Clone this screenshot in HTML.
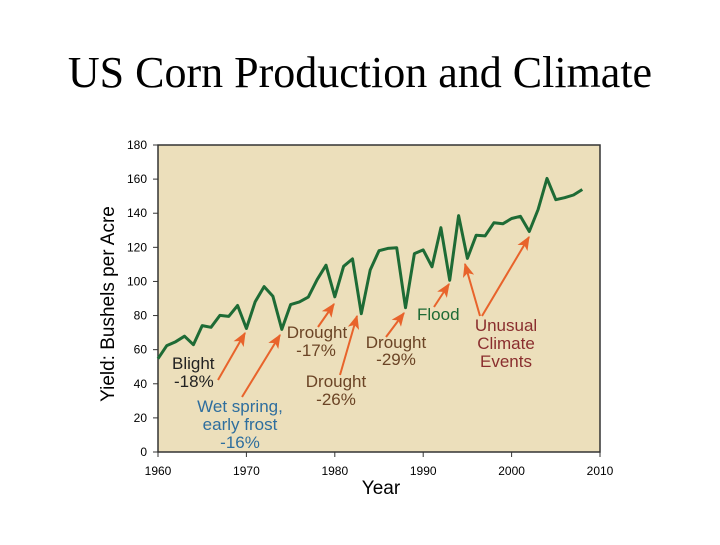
<!DOCTYPE html>
<html><head><meta charset="utf-8"><style>
body{margin:0;width:720px;height:540px;background:#fff;overflow:hidden}
svg text{font-family:"Liberation Sans",sans-serif}
</style></head><body>
<svg width="720" height="540">
<defs>
<marker id="ah2" viewBox="0 0 12 10" markerWidth="14" markerHeight="12" refX="11" refY="5" orient="auto" markerUnits="userSpaceOnUse"><path d="M0,0 L12,5 L0,10 L3,5 Z" fill="#e8632b"/></marker></defs>
<text x="360" y="87" text-anchor="middle" font-size="44" style="font-family:'Liberation Serif',serif">US Corn Production and Climate</text>
<rect x="158" y="145" width="442" height="307" fill="#ecdfbb" stroke="#333" stroke-width="1.5"/>
<g id="axes"></g>
<path id="line" fill="none" stroke="#1e6b35" stroke-width="3" stroke-linejoin="round"/>
<text x="0" y="0" transform="translate(114,304) rotate(-90)" text-anchor="middle" font-size="19">Yield: Bushels per Acre</text>
<text x="381" y="494" text-anchor="middle" font-size="19">Year</text>
<g font-size="17">
<text x="172" y="369" fill="#222">Blight</text><text x="174" y="387" fill="#222">-18%</text>
<text x="240" y="412" text-anchor="middle" fill="#2e6e9e">Wet spring,</text>
<text x="240" y="430" text-anchor="middle" fill="#2e6e9e">early frost</text>
<text x="240" y="448" text-anchor="middle" fill="#2e6e9e">-16%</text>
<text x="317" y="338" text-anchor="middle" fill="#6b4425">Drought</text><text x="316" y="356" text-anchor="middle" fill="#6b4425">-17%</text>
<text x="336" y="387" text-anchor="middle" fill="#6b4425">Drought</text><text x="336" y="405" text-anchor="middle" fill="#6b4425">-26%</text>
<text x="396" y="348" text-anchor="middle" fill="#6b4425">Drought</text><text x="396" y="365" text-anchor="middle" fill="#6b4425">-29%</text>
<text x="417" y="320" fill="#1e6b35">Flood</text>
<text x="506" y="331" text-anchor="middle" fill="#8a2e2e">Unusual</text>
<text x="506" y="349" text-anchor="middle" fill="#8a2e2e">Climate</text>
<text x="506" y="367" text-anchor="middle" fill="#8a2e2e">Events</text>
</g>
<g stroke="#e8632b" stroke-width="2" fill="none" marker-end="url(#ah2)">
<line x1="218" y1="380" x2="245" y2="333"/>
<line x1="242" y1="397" x2="280" y2="335"/>
<line x1="318" y1="327" x2="334" y2="304"/>
<line x1="340" y1="375" x2="357" y2="316"/>
<line x1="386" y1="337" x2="404" y2="313"/>
<line x1="434" y1="307" x2="449" y2="284"/>
<line x1="480" y1="316" x2="465" y2="264"/>
<line x1="482" y1="316" x2="529" y2="237"/>
</g>
</svg>
<script>
const years=[1960,1961,1962,1963,1964,1965,1966,1967,1968,1969,1970,1971,1972,1973,1974,1975,1976,1977,1978,1979,1980,1981,1982,1983,1984,1985,1986,1987,1988,1989,1990,1991,1992,1993,1994,1995,1996,1997,1998,1999,2000,2001,2002,2003,2004,2005,2006,2007,2008];
const yields=[54.7,62.4,64.7,67.9,62.9,74.1,73.1,80.1,79.5,85.9,72.4,88.1,97.0,91.3,71.9,86.4,88.0,90.8,101.0,109.5,91.0,108.9,113.2,81.1,106.7,118.0,119.4,119.8,84.6,116.3,118.5,108.6,131.5,100.7,138.6,113.5,127.1,126.7,134.4,133.8,136.9,138.2,129.3,142.2,160.4,147.9,149.1,150.7,153.9];
const yTicks=[0,20,40,60,80,100,120,140,160,180];
const xTicks=[1960,1970,1980,1990,2000,2010];
const X=v=>158+(v-1960)*442/50, Y=v=>452-v*307/180;
const NS='http://www.w3.org/2000/svg';
const g=document.getElementById('axes');
yTicks.forEach(t=>{
 const l=document.createElementNS(NS,'line');l.setAttribute('x1',153);l.setAttribute('x2',158);l.setAttribute('y1',Y(t));l.setAttribute('y2',Y(t));l.setAttribute('stroke','#333');
 
 g.appendChild(l);
 const tx=document.createElementNS(NS,'text');tx.setAttribute('x',147);tx.setAttribute('y',Y(t)+4);tx.setAttribute('text-anchor','end');tx.setAttribute('font-size','12');tx.textContent=t;
 
 g.appendChild(tx);
});
xTicks.forEach(t=>{
 const l=document.createElementNS(NS,'line');l.setAttribute('x1',X(t));l.setAttribute('x2',X(t));l.setAttribute('y1',452);l.setAttribute('y2',457);l.setAttribute('stroke','#333');
 
 g.appendChild(l);
 const tx=document.createElementNS(NS,'text');tx.setAttribute('x',X(t));tx.setAttribute('y',475);tx.setAttribute('text-anchor','middle');tx.setAttribute('font-size','12');tx.textContent=t;
 
 g.appendChild(tx);
});
document.getElementById('line').setAttribute('d',years.map((y,i)=>(i?'L':'M')+X(y).toFixed(1)+','+Y(yields[i]).toFixed(1)).join(''));
</script>
</body></html>
